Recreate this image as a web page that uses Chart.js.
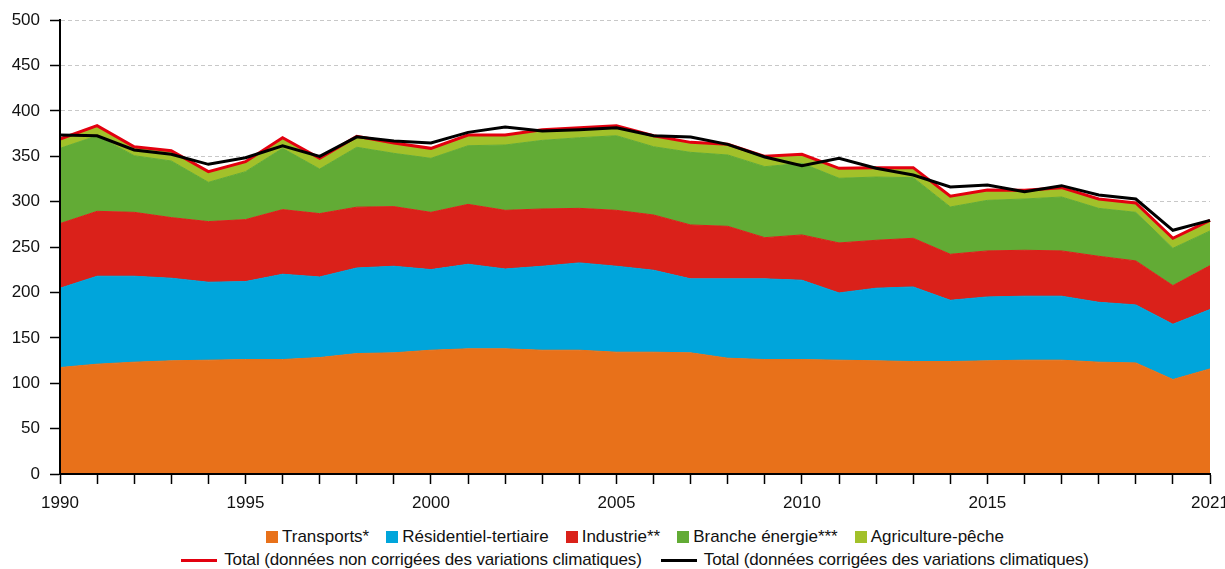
<!DOCTYPE html>
<html lang="fr">
<head>
<meta charset="utf-8">
<script src="https://cdn.jsdelivr.net/npm/chart.js@4.4.1/dist/chart.umd.min.js"></script>
<style>
  html, body { margin: 0; padding: 0; background: #fff; overflow: hidden; width: 1225px; height: 569px; }
  #wrap { position: relative; width: 1225px; height: 569px; overflow: hidden; }
  #c { position: absolute; left: 0; top: 0; }
  .legend { position: absolute; left: 0; width: 1270px; height: 20px; display: flex; justify-content: center; align-items: center;
            font-family: "Liberation Sans", Arial, sans-serif; font-size: 17px; line-height: 20px; color: #111; white-space: nowrap; }
  #leg2 { letter-spacing: -0.12px; }
  .item { display: flex; align-items: center; }
  .sq { width: 12px; height: 12px; margin-right: 4px; }
  .ln { width: 36px; height: 3px; margin-right: 7px; }
</style>
</head>
<body>
<div id="wrap">
  <canvas id="c" width="1240" height="520" style="width:1240px;height:520px"></canvas>
  <div class="legend" id="leg1" style="top:527px"></div>
  <div class="legend" id="leg2" style="top:550px"></div>
</div>
<script>
// ---- Data (Mt CO2e) ----
const years = [1990,1991,1992,1993,1994,1995,1996,1997,1998,1999,2000,2001,2002,2003,2004,2005,
               2006,2007,2008,2009,2010,2011,2012,2013,2014,2015,2016,2017,2018,2019,2020,2021];
const tickLabels = ['1990','1995','2000','2005','2010','2015','2021'];

const transports = [117.3,121.0,123.2,124.7,125.4,126.1,126.1,128.3,132.7,133.5,136.4,137.9,137.9,136.4,136.4,134.2,
                    134.2,133.5,127.6,126.1,126.1,125.4,124.7,123.9,123.9,124.7,125.4,125.4,123.2,122.4,104.1,115.8];
const residentiel = [87.4,96.9,94.7,91.0,85.9,85.9,94.0,88.8,94.3,95.4,88.8,93.2,88.0,92.5,96.2,94.7,
                     90.3,81.5,87.4,88.9,87.4,74.1,80.0,82.2,67.5,70.4,70.5,70.5,66.0,63.9,60.9,65.4];
const industrie = [71.2,71.5,70.4,66.8,66.8,68.3,71.2,69.8,67.0,65.7,63.1,66.0,64.6,63.1,60.1,61.6,
                   60.9,59.4,57.9,45.4,49.9,55.1,52.8,53.6,50.7,50.7,50.6,49.9,50.7,48.5,42.6,48.4];
const brancheEnergie = [82.9,83.3,62.4,62.4,43.3,52.8,67.5,49.1,66.0,58.7,59.5,64.6,72.0,75.6,77.8,82.2,
                        75.2,80.0,78.6,78.2,78.9,71.2,69.7,66.8,52.1,55.7,56.5,59.4,52.8,53.5,41.1,38.2];
const agriculture = [10.3,11.1,9.9,11.3,11.7,11.0,11.7,11.8,12.0,11.4,11.0,11.8,11.0,11.8,11.1,11.1,
                     12.1,11.0,11.7,11.4,9.9,11.0,10.3,11.0,11.8,11.4,9.6,10.3,10.3,10.3,11.0,11.7];
const totalNonCorrige = [369.1,383.8,360.6,356.2,333.1,344.1,370.5,347.8,372.0,364.7,358.8,373.5,373.5,379.4,381.6,383.8,
                         372.7,365.4,363.2,350.0,352.2,336.8,337.5,337.5,306.0,312.9,312.6,315.5,303.0,298.6,259.7,279.5];
const totalCorrige = [373.5,372.7,357.0,352.2,341.2,348.5,361.7,350.0,371.5,366.9,364.7,376.4,382.3,377.9,379.4,381.6,
                      372.7,371.3,363.2,349.3,339.7,347.8,336.8,329.4,316.2,318.4,311.1,317.7,307.4,303.0,268.5,279.5];

const areaNames = ['Transports*','Résidentiel-tertiaire','Industrie**','Branche énergie***','Agriculture-pêche'];
const areaColors = ['#E8711A','#00A5DB','#DA211A','#62AB35','#A2C12A'];
const areaData = [transports, residentiel, industrie, brancheEnergie, agriculture];
const lineNames = ['Total (données non corrigées des variations climatiques)','Total (données corrigées des variations climatiques)'];
const lineColors = ['#E3000F','#000000'];

const FONT = '"Liberation Sans", Arial, sans-serif';

const datasets = areaData.map((d, i) => ({
  label: areaNames[i], data: d, stack: 'areas', order: 2,
  backgroundColor: areaColors[i], borderColor: areaColors[i], borderWidth: 1,
  fill: i === 0 ? 'origin' : '-1', pointRadius: 0, tension: 0
}));
datasets.push({ label: lineNames[0], data: totalNonCorrige, stack: 'nc', order: 1,
  borderColor: lineColors[0], borderWidth: 3, fill: false, pointRadius: 0, tension: 0, borderJoinStyle: 'miter' });
datasets.push({ label: lineNames[1], data: totalCorrige, stack: 'c', order: 0,
  borderColor: lineColors[1], borderWidth: 3, fill: false, pointRadius: 0, tension: 0, borderJoinStyle: 'miter' });

const axisRedraw = {
  id: 'axisRedraw',
  afterDatasetsDraw(chart) {
    const { ctx, chartArea: a } = chart;
    ctx.save();
    ctx.strokeStyle = '#000';
    ctx.lineWidth = 2;
    ctx.beginPath();
    ctx.moveTo(a.left, a.top);
    ctx.lineTo(a.left, a.bottom);
    ctx.lineTo(a.right, a.bottom);
    ctx.stroke();
    ctx.restore();
  }
};

new Chart(document.getElementById('c'), {
  type: 'line',
  data: { labels: years.map(String), datasets },
  options: {
    responsive: false, animation: false, devicePixelRatio: 1,
    layout: { padding: { top: 19, right: 30, left: 0, bottom: 0 } },
    plugins: { legend: { display: false }, tooltip: { enabled: false } },
    scales: {
      x: {
        offset: false,
        grid: { drawOnChartArea: false, drawTicks: true, tickLength: 10, tickColor: '#000', tickWidth: 1.5 },
        border: { display: true, color: '#000', width: 2 },
        ticks: {
          autoSkip: false, maxRotation: 0, minRotation: 0, padding: 9, color: '#111',
          font: { family: FONT, size: 17 },
          callback(v, i) { const l = this.getLabelForValue(v); return tickLabels.includes(l) ? l : ''; }
        },
        afterFit(s) { s.height = 46; }
      },
      y: {
        stacked: true, min: 0, max: 500,
        grid: { color: '#c8c8c8', lineWidth: 1, drawTicks: true, tickLength: 10, tickColor: '#000', tickWidth: 1.5, tickBorderDash: [] },
        border: { display: true, color: '#000', width: 2, dash: [4, 3] },
        ticks: { stepSize: 50, padding: 10, color: '#111', font: { family: FONT, size: 17 } },
        afterFit(s) { s.width = 60; }
      }
    }
  },
  plugins: [axisRedraw]
});

// HTML legend
const leg1 = document.getElementById('leg1');
areaNames.forEach((n, i) => {
  const it = document.createElement('div'); it.className = 'item';
  if (i > 0) it.style.marginLeft = '17px';
  it.innerHTML = '<span class="sq" style="background:' + areaColors[i] + '"></span><span>' + n + '</span>';
  leg1.appendChild(it);
});
const leg2 = document.getElementById('leg2');
lineNames.forEach((n, i) => {
  const it = document.createElement('div'); it.className = 'item';
  if (i > 0) it.style.marginLeft = '19px';
  it.innerHTML = '<span class="ln" style="background:' + lineColors[i] + '"></span><span>' + n + '</span>';
  leg2.appendChild(it);
});
</script>
</body>
</html>
